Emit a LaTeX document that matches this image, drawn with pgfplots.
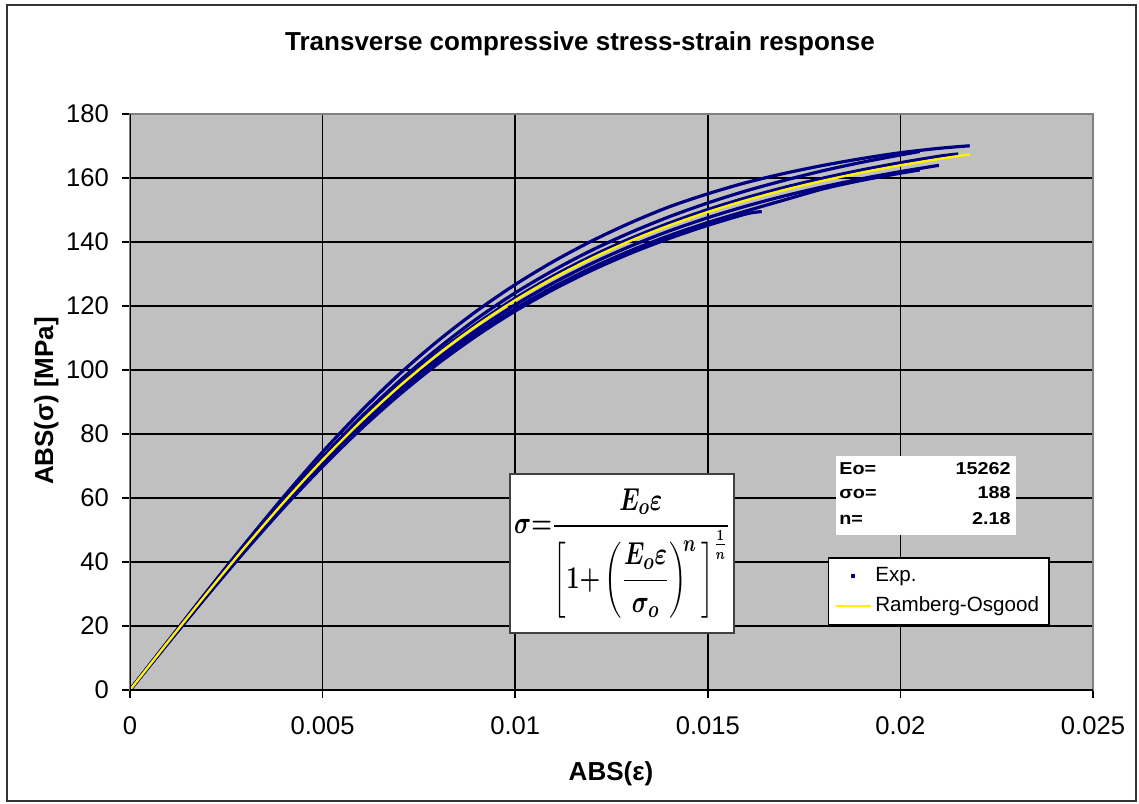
\documentclass[border=0pt]{standalone}
\usepackage{pgfplots}
\pgfplotsset{compat=1.18}
\usepackage{amsmath}
\usepackage{fontspec}
\setmainfont{Liberation Sans}
\definecolor{expnavy}{RGB}{0,0,128}
\definecolor{plotgray}{RGB}{192,192,192}
\definecolor{bordergray}{RGB}{128,128,128}
\newsavebox{\eqbox}
\begin{document}%
\sbox{\eqbox}{\scalebox{0.82}[1.1]{\fontsize{15}{17}\selectfont\boldmath$\displaystyle \boldsymbol{\sigma}{=}\frac{\boldsymbol{E_o\varepsilon}}{\left[\mathbf{1}{+}\left(\dfrac{\boldsymbol{E_o\varepsilon}}{\boldsymbol{\sigma_o}}\right)^{\!\boldsymbol{n}}\,\right]^{\frac{\mathbf{1}}{\boldsymbol{n}}}}$}}%
\begin{tikzpicture}
\path (0pt,0pt) rectangle (569.5pt,401.5pt);
\draw[line width=0.75pt, black!80] (3.5pt,399pt) rectangle (568pt,1pt);
\begin{axis}[
  at={(65pt,56.5pt)}, anchor=south west,
  scale only axis, width=481.5pt, height=288pt,
  xmin=0, xmax=0.025, ymin=0, ymax=180,
  axis background/.style={fill=plotgray},
  axis line style={draw=bordergray, line width=0.75pt},
  grid=major, major grid style={black, line width=0.75pt},
  xtick={0,0.005,0.01,0.015,0.02,0.025},
  xticklabels={0,0.005,0.01,0.015,0.02,0.025},
  ytick={0,20,40,60,80,100,120,140,160,180},
  yticklabels={0,20,40,60,80,100,120,140,160,180},
  scaled x ticks=false,
  tick align=outside, major tick length=4pt,
  tick style={black, line width=0.75pt},
  xtick pos=bottom, ytick pos=left,
  ticklabel style={font=\fontsize{12.8}{15}\selectfont},
  xticklabel style={yshift=-6pt},
  yticklabel style={xshift=-3pt},
  legend style={at={(0.7248,0.2309)}, anchor=north west, draw=black, line width=0.75pt,
    fill=white, font=\fontsize{10.3}{12}\selectfont, row sep=2pt, inner sep=3pt},
  legend cell align=left,
]
\addlegendimage{only marks, mark=square*, mark size=0.6pt, color=expnavy}
\addlegendentry{Exp.}
\addplot[expnavy, line width=1.6pt, smooth, forget plot] coordinates {
(0,0) (0.001,15.38) (0.002,30.87) (0.003,45.97) (0.004,60.54) (0.005,74.38)
(0.006,87.15) (0.007,98.80) (0.008,109.17) (0.009,118.45) (0.010,126.69)
(0.011,133.97) (0.012,140.39) (0.013,146.04) (0.014,151.00) (0.015,155.06)
(0.016,158.58) (0.017,161.47) (0.018,163.95) (0.019,166.08) (0.020,167.90)
(0.021,169.27) (0.0218,170.07)};
\addplot[expnavy, line width=1.6pt, smooth, forget plot] coordinates {
(0,0) (0.001,15.45) (0.002,30.70) (0.003,45.40) (0.004,59.40) (0.005,72.80)
(0.006,85.30) (0.007,96.60) (0.008,106.80) (0.009,116.00) (0.010,124.10)
(0.011,131.20) (0.012,137.50) (0.013,143.00) (0.014,147.90) (0.015,152.20)
(0.016,156.00) (0.017,159.30) (0.018,162.30) (0.019,164.90) (0.020,167.20)
(0.0205,168.27)};
\addplot[expnavy, line width=1.6pt, smooth, forget plot] coordinates {
(0,0) (0.001,15.31) (0.002,30.41) (0.003,45.07) (0.004,59.07) (0.005,72.22)
(0.006,84.38) (0.007,95.48) (0.008,105.49) (0.009,114.46) (0.010,122.43)
(0.011,129.46) (0.012,135.66) (0.013,141.12) (0.014,145.92) (0.015,150.13)
(0.016,153.84) (0.017,157.09) (0.018,159.97) (0.019,162.52) (0.020,164.78)
(0.021,166.78) (0.0215,167.51)};
\addplot[expnavy, line width=1.6pt, smooth, forget plot] coordinates {
(0,0) (0.001,15.05) (0.002,29.90) (0.003,44.31) (0.004,58.07) (0.005,71.00)
(0.006,82.95) (0.007,93.86) (0.008,103.71) (0.009,112.52) (0.010,120.36)
(0.011,127.27) (0.012,133.37) (0.013,138.73) (0.014,143.45) (0.015,147.59)
(0.016,151.23) (0.017,154.43) (0.018,157.26) (0.019,159.77) (0.020,161.99)
(0.021,163.96)};
\addplot[expnavy, line width=1.6pt, smooth, forget plot] coordinates {
(0,0) (0.001,14.89) (0.002,29.59) (0.003,43.86) (0.004,57.49) (0.005,70.28)
(0.006,82.11) (0.007,92.91) (0.008,102.66) (0.009,111.38) (0.010,119.14)
(0.011,125.99) (0.012,132.02) (0.013,137.33) (0.014,142.00) (0.015,146.09)
(0.016,149.70) (0.017,153.18) (0.018,156.62) (0.019,159.28) (0.020,161.50)
(0.0205,162.50)};
\addplot[expnavy, line width=1.6pt, smooth, forget plot] coordinates {
(0,0) (0.001,14.80) (0.002,29.41) (0.003,43.59) (0.004,57.13) (0.005,69.85)
(0.006,81.61) (0.007,92.34) (0.008,102.03) (0.009,110.70) (0.010,118.41)
(0.011,125.21) (0.012,131.21) (0.013,136.49) (0.014,141.12) (0.015,145.20)
(0.016,148.78) (0.0164,149.50)};
\addplot[yellow, line width=1.2pt, smooth] coordinates {
(0,0) (0.001,15.23) (0.002,30.26) (0.003,44.85) (0.004,58.78) (0.005,71.86)
(0.006,83.96) (0.007,95.00) (0.008,104.97) (0.009,113.89) (0.010,121.82)
(0.011,128.82) (0.012,134.99) (0.013,140.42) (0.014,145.19) (0.015,149.38)
(0.016,153.07) (0.017,156.31) (0.018,159.17) (0.019,161.71) (0.020,163.96)
(0.021,165.95) (0.0218,167.39)};
\addlegendentry{Ramberg-Osgood}
\draw[bordergray, line width=0.75pt] (rel axis cs:0,1) -- (rel axis cs:1,1) -- (rel axis cs:1,0);
\draw[black, line width=0.75pt] (rel axis cs:0,1) -- (rel axis cs:0,0) -- (rel axis cs:1,0);
\end{axis}
\begin{scope}[x=0.5pt,y=0.5pt]
\node[anchor=base, font=\bfseries\fontsize{13}{15}\selectfont] at (580,752) {Transverse compressive stress-strain response};
\node[anchor=base, font=\bfseries\fontsize{13}{15}\selectfont] at (611,23) {ABS(ε)};
\node[anchor=base, rotate=90, font=\bfseries\fontsize{13}{15}\selectfont] at (53,402) {ABS(σ) [MPa]};
\filldraw[fill=white, draw=black!75, line width=0.75pt] (510,170) rectangle (734,329);
\node[inner sep=0pt] at (622,249.5) {\usebox{\eqbox}};
\fill[white] (836,268) rectangle (1016,347);
\node[anchor=base west, inner sep=0pt, font=\bfseries\fontsize{8.6}{10}\selectfont] at (839,328) {\scalebox{1.15}[1]{Eo=}};
\node[anchor=base west, inner sep=0pt, font=\bfseries\fontsize{8.6}{10}\selectfont] at (839,304) {\scalebox{1.15}[1]{σo=}};
\node[anchor=base west, inner sep=0pt, font=\bfseries\fontsize{8.6}{10}\selectfont] at (839,278) {\scalebox{1.15}[1]{n=}};
\node[anchor=base east, inner sep=0pt, font=\bfseries\fontsize{8.6}{10}\selectfont] at (1011,328) {\scalebox{1.15}[1]{15262}};
\node[anchor=base east, inner sep=0pt, font=\bfseries\fontsize{8.6}{10}\selectfont] at (1011,304) {\scalebox{1.15}[1]{188}};
\node[anchor=base east, inner sep=0pt, font=\bfseries\fontsize{8.6}{10}\selectfont] at (1011,278) {\scalebox{1.15}[1]{2.18}};
\end{scope}
\end{tikzpicture}
\end{document}
